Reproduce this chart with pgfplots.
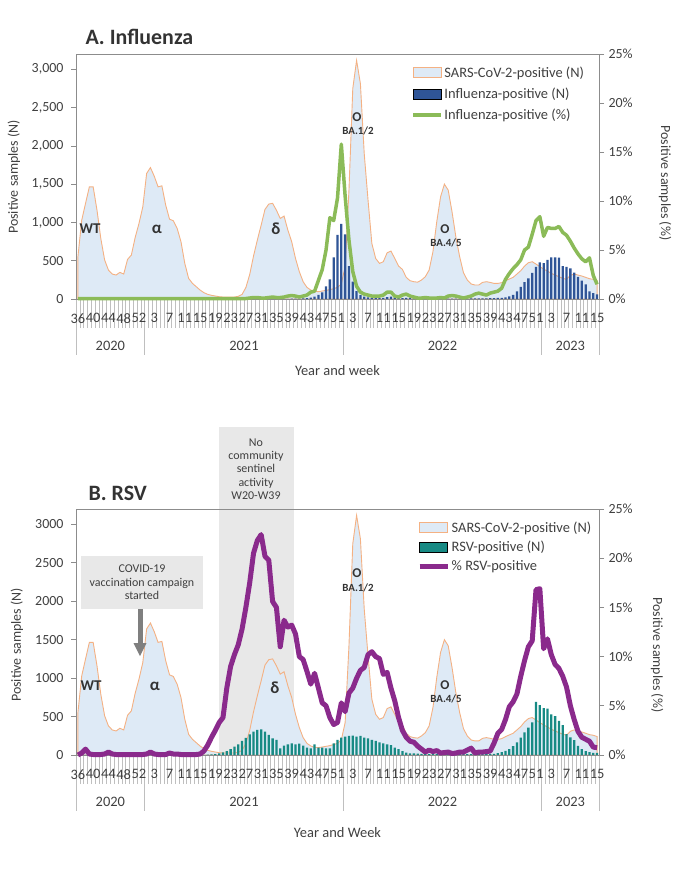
\documentclass[border=0pt]{standalone}
\usepackage{fontspec}
\setmainfont{Carlito}
\usepackage{pgfplots}
\pgfplotsset{compat=1.18}
\usepackage{pgfplotstable}
\definecolor{sarsfill}{HTML}{DEEAF6}
\definecolor{sarsline}{HTML}{F4B183}
\definecolor{flubar}{HTML}{2F5597}
\definecolor{flugreen}{HTML}{8BBB58}
\definecolor{rsvbar}{HTML}{178A84}
\definecolor{rsvpurple}{HTML}{8A2A8C}
\definecolor{txt}{HTML}{404040}
\definecolor{titlec}{HTML}{333333}
\definecolor{axgray}{HTML}{8C8C8C}
\definecolor{ticklines}{HTML}{BFBFBF}
\definecolor{boxgray}{HTML}{E8E8E8}
\definecolor{arrowgray}{HTML}{7F7F7F}

\pgfplotstableread{
i n
0 550
1 1030
2 1250
3 1465
4 1465
5 1160
6 790
7 510
8 378
9 326
10 313
11 348
12 326
13 517
14 574
15 804
16 987
17 1204
18 1640
19 1717
20 1604
21 1465
22 1478
23 1226
24 1043
25 1022
26 922
27 748
28 465
29 270
30 204
31 161
32 117
33 83
34 61
35 48
36 39
37 30
38 26
39 26
40 26
41 26
42 35
43 60
44 150
45 320
46 561
47 770
48 965
49 1170
50 1240
51 1250
52 1160
53 1052
54 1083
55 900
56 748
57 530
58 357
59 226
60 152
61 117
62 100
63 96
64 104
65 113
66 122
67 135
68 152
69 196
70 422
71 1420
72 2748
73 3117
74 2813
75 1900
76 1291
77 726
78 530
79 465
80 487
81 604
82 626
83 530
84 430
85 387
86 283
87 239
88 226
89 220
90 248
91 291
92 378
93 617
94 1009
95 1335
96 1500
97 1422
98 1139
99 813
100 552
101 343
102 248
103 196
104 183
105 183
106 217
107 226
108 217
109 204
110 204
111 213
112 239
113 261
114 283
115 326
116 370
117 430
118 474
119 487
120 456
121 422
122 391
123 365
124 335
125 313
126 291
127 270
128 257
129 309
130 326
131 313
132 300
133 283
134 265
135 257
136 240
}\sarstab

\pgfplotstableread{
i n p
0 0 0.05
1 0 0.05
2 0 0.05
3 0 0.05
4 0 0.05
5 0 0.05
6 0 0.05
7 0 0.05
8 0 0.05
9 0 0.05
10 0 0.05
11 0 0.05
12 0 0.05
13 0 0.05
14 0 0.05
15 0 0.05
16 0 0.05
17 0 0.05
18 0 0.05
19 0 0.05
20 0 0.05
21 0 0.05
22 0 0.05
23 0 0.05
24 0 0.05
25 0 0.05
26 0 0.05
27 0 0.05
28 0 0.05
29 0 0.05
30 0 0.05
31 0 0.05
32 0 0.05
33 0 0.05
34 0 0.05
35 0 0.05
36 0 0.05
37 0 0.05
38 0 0.05
39 0 0.05
40 0 0.05
41 0 0.05
42 0 0.05
43 0 0.05
44 0 0.05
45 0 0.1
46 0 0.15
47 0 0.15
48 0 0.1
49 0 0.1
50 0 0.15
51 0 0.2
52 0 0.15
53 0 0.15
54 0 0.2
55 3 0.3
56 4 0.35
57 5 0.3
58 6 0.2
59 8 0.3
60 10 0.4
61 17 0.7
62 30 0.8
63 55 1.9
64 85 3.0
65 165 5.0
66 256 8.3
67 543 8.0
68 838 10.3
69 980 15.8
70 845 10.5
71 430 6.0
72 226 2.8
73 104 1.3
74 52 0.7
75 30 0.5
76 20 0.4
77 15 0.3
78 12 0.3
79 12 0.3
80 15 0.4
81 25 0.7
82 30 0.7
83 20 0.3
84 15 0.2
85 12 0.4
86 15 0.5
87 10 0.3
88 8 0.2
89 6 0.1
90 5 0.1
91 5 0.15
92 5 0.1
93 5 0.1
94 5 0.1
95 5 0.15
96 5 0.1
97 6 0.3
98 6 0.35
99 6 0.3
100 6 0.2
101 6 0.1
102 6 0.2
103 7 0.3
104 8 0.5
105 8 0.6
106 8 0.5
107 9 0.4
108 10 0.6
109 12 0.7
110 14 0.8
111 16 1.1
112 20 2.0
113 35 2.6
114 55 3.1
115 100 3.5
116 160 4.0
117 220 5.0
118 270 5.3
119 340 6.6
120 420 8.0
121 480 8.4
122 470 6.4
123 510 7.3
124 545 7.2
125 545 7.2
126 540 7.4
127 430 6.8
128 420 6.5
129 400 5.9
130 345 5.2
131 290 4.6
132 240 4.1
133 190 3.8
134 100 4.2
135 78 2.4
136 60 1.5
}\flutab

\pgfplotstableread{
i n p
0 0 0
1 0 0.2
2 2 0.6
3 0 0.1
4 0 0.05
5 0 0.05
6 0 0.05
7 0 0.1
8 1 0.3
9 0 0.1
10 0 0.05
11 0 0.05
12 0 0.05
13 0 0.05
14 0 0.05
15 0 0.05
16 0 0.05
17 0 0.05
18 0 0.1
19 1 0.3
20 0 0.1
21 0 0.05
22 0 0.05
23 0 0.05
24 0 0.2
25 0 0.1
26 0 0.1
27 0 0.05
28 0 0.05
29 0 0.05
30 0 0.05
31 0 0.05
32 0 0.1
33 2 0.4
34 4 1.0
35 8 1.8
36 13 2.5
37 22 3.3
38 35 3.8
39 52 6.8
40 78 9.0
41 109 10.2
42 139 11.2
43 185 12.8
44 222 15.0
45 270 17.5
46 304 20.5
47 326 21.8
48 335 22.4
49 304 20.2
50 261 19.8
51 217 15.6
52 196 15.0
53 87 11.0
54 122 13.7
55 139 13.0
56 152 13.2
57 139 12.3
58 148 10.0
59 122 9.7
60 96 8.5
61 87 7.2
62 139 8.3
63 96 6.8
64 96 5.3
65 87 5.0
66 87 3.8
67 152 3.1
68 196 3.3
69 226 5.3
70 239 4.4
71 248 6.3
72 252 6.8
73 239 7.8
74 248 8.6
75 226 8.9
76 217 10.2
77 196 10.5
78 183 10.0
79 165 9.8
80 152 8.2
81 139 8.4
82 130 6.8
83 96 5.5
84 78 3.8
85 52 2.5
86 30 1.8
87 22 1.4
88 22 1.3
89 17 0.9
90 14 0.6
91 12 0.3
92 12 0.5
93 10 0.35
94 10 0.45
95 10 0.2
96 10 0.25
97 10 0.3
98 10 0.15
99 10 0.2
100 10 0.3
101 12 0.3
102 12 0.5
103 12 0.7
104 12 0.2
105 12 0.3
106 12 0.3
107 12 0.35
108 12 0.4
109 15 1.2
110 25 2.2
111 38 2.6
112 55 3.6
113 75 4.9
114 115 5.4
115 165 6.2
116 225 8.0
117 295 9.6
118 355 11.0
119 425 11.6
120 690 16.8
121 650 16.9
122 610 10.8
123 605 11.8
124 530 10.2
125 505 9.2
126 445 8.8
127 390 8.0
128 272 6.9
129 230 5.0
130 195 3.6
131 120 2.4
132 76 1.8
133 52 1.6
134 36 1.4
135 28 0.8
136 28 0.75
}\rsvtab

\pgfplotsset{
  myarealegend/.style={legend image code/.code={\draw[##1] (0bp,-5bp) rectangle (28bp,5bp);}},
  mylinelegend/.style={legend image code/.code={\draw[##1] (0bp,0bp) -- (28bp,0bp);}},
  base/.style={
    scale only axis, width=523bp, xmin=-0.5, xmax=136.5, clip=false,
    anchor=south west,
    axis line style={axgray, line width=0.8bp},
    tick align=outside,
    major tick length=5bp,
    tick style={axgray, line width=0.7bp},
    ticklabel style={text=txt, font=\fontsize{14}{16}\selectfont},
    /pgf/number format/assume math mode=true,
  },
  leftaxis/.style={base, axis on top,
    ymin=0, ymax=3200, ytick={0,500,...,3000}, ytick pos=left,
    xtick={0,4,...,136},
    xticklabels={36,40,44,48,52,3,7,11,15,19,23,27,31,35,39,43,47,51,3,7,11,15,19,23,27,31,35,39,43,47,51,3,7,11,15},
    minor xtick={-0.5,0.5,...,136.5},
    minor tick length=29bp,
    major x tick style={draw=none},
    minor x tick style={ticklines, line width=0.6bp},
    xtick pos=bottom,
    xticklabel style={yshift=-6bp, font=\fontsize{14.5}{16}\selectfont},
    yticklabel style={xshift=-4bp},
  },
  rightaxis/.style={base, ymin=0, ymax=25, ytick={0,5,...,25},
    yticklabel={\pgfmathprintnumber{\tick}\%},
    axis y line*=right, axis x line=none, xtick=\empty,
    yticklabel style={xshift=1bp},
    legend style={draw=none, fill=none, inner sep=0pt,
      font=\fontsize{14.5}{16}\selectfont, text=txt,
      nodes={inner sep=1.5bp, text=txt}, cells={anchor=west}},
  },
}

\begin{document}
\begin{tikzpicture}
\path[use as bounding box] (0bp,0bp) rectangle (700bp,-873bp);

% ================= Panel A =================
\begin{axis}[leftaxis, at={(76bp,-299bp)}, height=245bp, /pgf/number format/1000 sep={,}]
\addplot[fill=sarsfill, draw=sarsline, line width=0.9bp] table[x=i,y=n] {\sarstab} \closedcycle;
\addplot[ybar, bar width=0.6, fill=flubar, draw=none] table[x=i,y=n] {\flutab};
\pgfplotsinvokeforeach{-0.5,17.5,69.5,121.5,136.5}{\draw[ticklines, line width=0.7bp] (axis cs:#1,0) -- ++(0bp,-56bp);}
\node[text=txt, font=\fontsize{14.5}{16}\selectfont] at (axis cs:8.5,0) [yshift=-47bp] {2020};
\node[text=txt, font=\fontsize{14.5}{16}\selectfont] at (axis cs:43.5,0) [yshift=-47bp] {2021};
\node[text=txt, font=\fontsize{14.5}{16}\selectfont] at (axis cs:95.5,0) [yshift=-47bp] {2022};
\node[text=txt, font=\fontsize{14.5}{16}\selectfont] at (axis cs:129,0) [yshift=-47bp] {2023};
\node[text=txt, font=\fontsize{14.5}{16}\selectfont] at (rel axis cs:0.5,0) [yshift=-72bp] {Year and week};
\end{axis}
\begin{axis}[rightaxis, at={(76bp,-299bp)}, height=245bp,
  legend style={at={(rel axis cs:0.641,0.955)}, anchor=north west, row sep=6bp}]
\addlegendimage{myarealegend, fill=sarsfill, draw=sarsline, line width=0.9bp}
\addlegendentry{SARS-CoV-2-positive (N)}
\addlegendimage{myarealegend, fill=flubar, draw=none}
\addlegendentry{Influenza-positive (N)}
\addplot[flugreen, line width=3.5bp, line join=round, mylinelegend] table[x=i,y=p] {\flutab};
\addlegendentry{Influenza-positive (\%)}
\end{axis}

\node[anchor=west, text=titlec, font=\bfseries\fontsize{22}{26}\selectfont] at (82bp,-37bp) {A. Influenza};
\node[rotate=90, text=txt, font=\fontsize{14}{16}\selectfont] at (14bp,-177bp) {Positive samples (N)};
\node[rotate=-90, text=txt, font=\fontsize{14}{16}\selectfont] at (665bp,-183bp) {Positive samples (\%)};
\node[text=titlec, font=\bfseries\fontsize{15}{17}\selectfont] at (90bp,-229bp) {WT};
\node[text=titlec, font=\bfseries\fontsize{17}{19}\selectfont] at (157bp,-229bp) {α};
\node[text=titlec, font=\bfseries\fontsize{17}{19}\selectfont] at (276bp,-229bp) {δ};
\node[text=titlec, font=\bfseries\fontsize{13.5}{15}\selectfont] at (357bp,-117bp) {O};
\node[text=titlec, font=\bfseries\fontsize{11}{12}\selectfont] at (358bp,-130.5bp) {BA.1/2};
\node[text=titlec, font=\bfseries\fontsize{13.5}{15}\selectfont] at (445bp,-229bp) {O};
\node[text=titlec, font=\bfseries\fontsize{11}{12}\selectfont] at (446bp,-242.5bp) {BA.4/5};

% ================= Panel B =================
\begin{axis}[leftaxis, at={(76bp,-755bp)}, height=246bp, /pgf/number format/1000 sep={}]
\fill[boxgray] (axis cs:36.9,0) rectangle (axis cs:56.6,4263);
\addplot[fill=sarsfill, draw=sarsline, line width=0.9bp] table[x=i,y=n] {\sarstab} \closedcycle;
\addplot[ybar, bar width=0.6, fill=rsvbar, draw=none] table[x=i,y=n] {\rsvtab};
\pgfplotsinvokeforeach{-0.5,17.5,69.5,121.5,136.5}{\draw[ticklines, line width=0.7bp] (axis cs:#1,0) -- ++(0bp,-56bp);}
\node[text=txt, font=\fontsize{14.5}{16}\selectfont] at (axis cs:8.5,0) [yshift=-47bp] {2020};
\node[text=txt, font=\fontsize{14.5}{16}\selectfont] at (axis cs:43.5,0) [yshift=-47bp] {2021};
\node[text=txt, font=\fontsize{14.5}{16}\selectfont] at (axis cs:95.5,0) [yshift=-47bp] {2022};
\node[text=txt, font=\fontsize{14.5}{16}\selectfont] at (axis cs:129,0) [yshift=-47bp] {2023};
\node[text=txt, font=\fontsize{14.5}{16}\selectfont] at (rel axis cs:0.5,0) [yshift=-78bp] {Year and Week};
\end{axis}
\begin{axis}[rightaxis, at={(76bp,-755bp)}, height=246bp,
  legend style={at={(rel axis cs:0.652,0.955)}, anchor=north west, row sep=4.5bp}]
\addlegendimage{myarealegend, fill=sarsfill, draw=sarsline, line width=0.9bp}
\addlegendentry{SARS-CoV-2-positive (N)}
\addlegendimage{myarealegend, fill=rsvbar, draw=none}
\addlegendentry{RSV-positive (N)}
\addplot[rsvpurple, line width=5bp, line join=round, mylinelegend] table[x=i,y=p] {\rsvtab};
\addlegendentry{\% RSV-positive}
\end{axis}

\node[anchor=west, text=titlec, font=\bfseries\fontsize{22}{26}\selectfont] at (85bp,-493bp) {B. RSV};
\node[rotate=90, text=txt, font=\fontsize{14}{16}\selectfont] at (17bp,-645bp) {Positive samples (N)};
\node[rotate=-90, text=txt, font=\fontsize{14}{16}\selectfont] at (657bp,-655bp) {Positive samples (\%)};
\node[align=center, text=txt, font=\fontsize{12}{13.3}\selectfont] at (256bp,-469bp) {No\\community\\sentinel\\activity\\W20-W39};
\fill[boxgray] (81bp,-556bp) rectangle (203bp,-609bp);
\node[align=center, text=txt, font=\fontsize{12}{13.5}\selectfont] at (142bp,-582.5bp) {COVID-19\\vaccination campaign\\started};
\fill[arrowgray] (137.5bp,-609bp) rectangle (142.5bp,-643bp);
\fill[arrowgray] (133.5bp,-643bp) -- (146.5bp,-643bp) -- (140bp,-656bp) -- cycle;
\node[text=titlec, font=\bfseries\fontsize{15}{17}\selectfont] at (91bp,-686bp) {WT};
\node[text=titlec, font=\bfseries\fontsize{17}{19}\selectfont] at (155bp,-686bp) {α};
\node[text=titlec, font=\bfseries\fontsize{17}{19}\selectfont] at (275bp,-688bp) {δ};
\node[text=titlec, font=\bfseries\fontsize{13.5}{15}\selectfont] at (357bp,-573bp) {O};
\node[text=titlec, font=\bfseries\fontsize{11}{12}\selectfont] at (358bp,-587.5bp) {BA.1/2};
\node[text=titlec, font=\bfseries\fontsize{13.5}{15}\selectfont] at (445bp,-685bp) {O};
\node[text=titlec, font=\bfseries\fontsize{11}{12}\selectfont] at (446bp,-698.5bp) {BA.4/5};
\end{tikzpicture}
\end{document}
